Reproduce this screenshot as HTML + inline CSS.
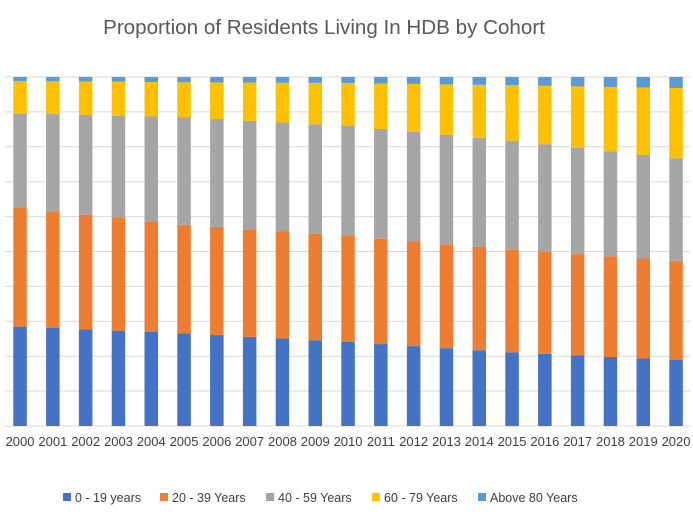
<!DOCTYPE html>
<html><head><meta charset="utf-8"><style>
body{margin:0;background:#fff;}
svg{display:block;font-family:"Liberation Sans",Arial,sans-serif;}
</style></head><body>
<svg id="s" width="693" height="523" xmlns="http://www.w3.org/2000/svg">
<rect width="693" height="523" fill="#fff"/>
<text x="324" y="34" text-anchor="middle" font-size="20.6" fill="#595959">Proportion of Residents Living In HDB by Cohort</text>
<g id="g"></g>
<g font-size="12.5" fill="#404040">
<rect x="63" y="493" width="8" height="8" fill="#4472C4"/><text x="75" y="502">0 - 19 years</text>
<rect x="160" y="493" width="8" height="8" fill="#ED7D31"/><text x="172" y="502">20 - 39 Years</text>
<rect x="266" y="493" width="8" height="8" fill="#A5A5A5"/><text x="278" y="502">40 - 59 Years</text>
<rect x="372" y="493" width="8" height="8" fill="#FFC000"/><text x="384" y="502">60 - 79 Years</text>
<rect x="478" y="493" width="8" height="8" fill="#5B9BD5"/><text x="490" y="502">Above 80 Years</text>
</g>
</svg>
<script>
var g=document.getElementById('g'),h='';
for(var i=0;i<=10;i++){var y=77+i*34.9;h+='<line x1="5" x2="690" y1="'+y+'" y2="'+y+'" stroke="#d9d9d9" stroke-width="1"/>';}
var k=[[326.7,208,113.3,81],[333.3,224.7,117.3,82.3],[342,236,126,83],[352.3,249.7,140.7,85.3],[360,260.7,158.3,88]];
var c=['#4472C4','#ED7D31','#A5A5A5','#FFC000','#5B9BD5'];
for(var i=0;i<21;i++){var a=Math.min(3,Math.floor(i/5)),t=(i-a*5)/5,v=[];
for(var j=0;j<4;j++)v[j]=k[a][j]+(k[a+1][j]-k[a][j])*t;
var b=[426].concat(v).concat([77]),x=13.3+32.8*i;
for(var j=0;j<5;j++)h+='<rect x="'+x+'" y="'+b[j+1]+'" width="13.5" height="'+(b[j]-b[j+1])+'" fill="'+c[j]+'"/>';
h+='<text x="'+(x+6.75)+'" y="446" text-anchor="middle" font-size="13" fill="#404040">'+(2000+i)+'</text>';}
g.innerHTML=h;
</script>
</body></html>
